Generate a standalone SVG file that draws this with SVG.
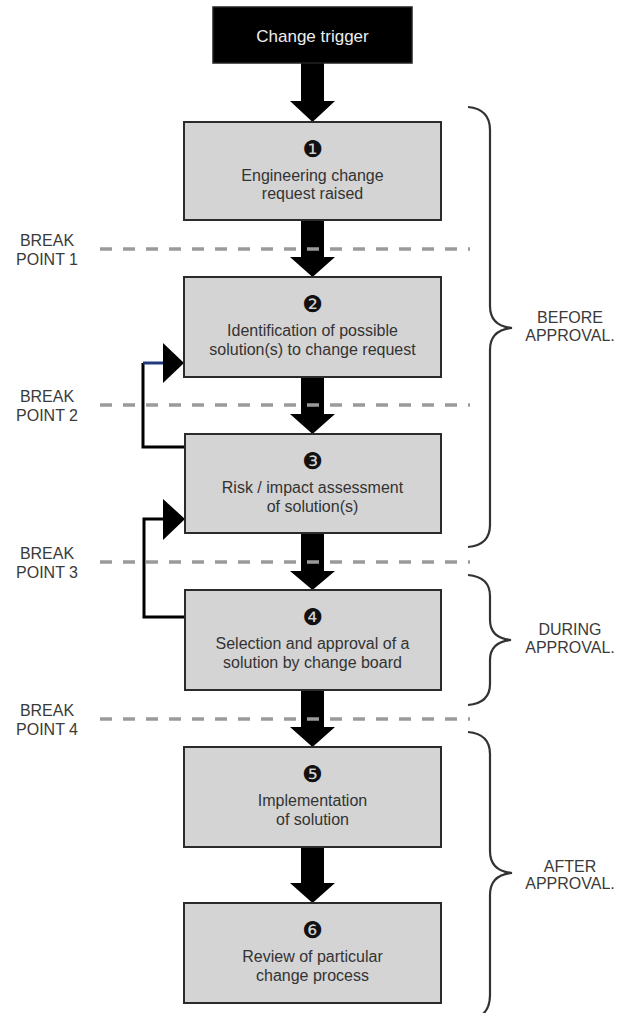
<svg xmlns="http://www.w3.org/2000/svg" width="619" height="1013" viewBox="0 0 619 1013">
<defs>
<style>
.box{fill:#d4d4d4;stroke:#2b2b2b;stroke-width:2}
.t{font-family:"Liberation Sans",Arial,sans-serif;font-size:16px;fill:#333;text-anchor:middle}
.num{font-family:"DejaVu Sans",sans-serif;font-size:23px;fill:#111;text-anchor:middle}
.lbl{font-family:"Liberation Sans",Arial,sans-serif;font-size:16px;fill:#3a3a3a;text-anchor:middle}
.dash{stroke:#9a9a9a;stroke-width:3.5;stroke-dasharray:12 11;fill:none}
.arrow{fill:#000}
.loop{fill:none;stroke:#000;stroke-width:3}
.brace{fill:none;stroke:#333;stroke-width:2.2}
</style>
</defs>
<rect width="619" height="1013" fill="#fff"/>

<g id="connectors">
<polygon class="arrow" points="301,63 324,63 324,101 335,101 312.5,122 290,101 301,101"/>
<polygon class="arrow" points="301,220 324,220 324,257 335,257 312.5,277 290,257 301,257"/>
<polygon class="arrow" points="301,377 324,377 324,414 335,414 312.5,434 290,414 301,414"/>
<polygon class="arrow" points="301,533 324,533 324,571 335,571 312.5,590 290,571 301,571"/>
<polygon class="arrow" points="301,690 324,690 324,727 335,727 312.5,747 290,727 301,727"/>
<polygon class="arrow" points="301,847 324,847 324,883 335,883 312.5,903 290,883 301,883"/>
<path class="loop" d="M184,447 H143 V363"/>
<path d="M143,363 H165" fill="none" stroke="#223a7a" stroke-width="3"/>
<polygon class="arrow" points="163,343 184,363 163,383"/>
<path class="loop" d="M185,617 H144 V519 H165"/>
<polygon class="arrow" points="163,499 185,519 163,540"/>
</g>

<g id="breakpoints">
<line class="dash" x1="100" y1="249" x2="470" y2="249"/>
<line class="dash" x1="100" y1="405" x2="470" y2="405"/>
<line class="dash" x1="100" y1="562" x2="470" y2="562"/>
<line class="dash" x1="100" y1="719" x2="470" y2="719"/>
<text class="lbl" x="47" y="246">BREAK</text>
<text class="lbl" x="47" y="265">POINT 1</text>
<text class="lbl" x="47" y="402">BREAK</text>
<text class="lbl" x="47" y="421">POINT 2</text>
<text class="lbl" x="47" y="559">BREAK</text>
<text class="lbl" x="47" y="578">POINT 3</text>
<text class="lbl" x="47" y="716">BREAK</text>
<text class="lbl" x="47" y="735">POINT 4</text>
</g>

<g id="trigger">
<rect x="213" y="7" width="199" height="56" fill="#000" stroke="#222" stroke-width="1.5"/>
<text class="t" x="312.5" y="42" style="fill:#eee;font-size:17px">Change trigger</text>
</g>

<g id="step1">
<rect class="box" x="184" y="122" width="257" height="98"/>
<text class="num" x="312.5" y="157">❶</text>
<text class="t" x="312.5" y="181">Engineering change</text>
<text class="t" x="312.5" y="199">request raised</text>
</g>

<g id="step2">
<rect class="box" x="184" y="277" width="257" height="100"/>
<text class="num" x="312.5" y="312">❷</text>
<text class="t" x="312.5" y="336">Identification of possible</text>
<text class="t" x="312.5" y="355">solution(s) to change request</text>
</g>

<g id="step3">
<rect class="box" x="185" y="434" width="256" height="99"/>
<text class="num" x="312.5" y="469">❸</text>
<text class="t" x="312.5" y="493">Risk / impact assessment</text>
<text class="t" x="312.5" y="512">of solution(s)</text>
</g>

<g id="step4">
<rect class="box" x="185" y="590" width="256" height="100"/>
<text class="num" x="312.5" y="625">❹</text>
<text class="t" x="312.5" y="649">Selection and approval of a</text>
<text class="t" x="312.5" y="668">solution by change board</text>
</g>

<g id="step5">
<rect class="box" x="184" y="747" width="257" height="100"/>
<text class="num" x="312.5" y="782">❺</text>
<text class="t" x="312.5" y="806">Implementation</text>
<text class="t" x="312.5" y="825">of solution</text>
</g>

<g id="step6">
<rect class="box" x="184" y="903" width="257" height="100"/>
<text class="num" x="312.5" y="938">❻</text>
<text class="t" x="312.5" y="962">Review of particular</text>
<text class="t" x="312.5" y="981">change process</text>
</g>

<g id="before">
<path class="brace" d="M468,107 Q490,109 490,130 V306 Q490,326 512,328 Q490,330 490,350 V525 Q490,545 468,547"/>
<text class="lbl" x="570" y="323">BEFORE</text>
<text class="lbl" x="570" y="341">APPROVAL.</text>
</g>

<g id="during">
<path class="brace" d="M468,575 Q490,577 490,596 V620 Q490,638 511,640 Q490,642 490,660 V684 Q490,703 468,705"/>
<text class="lbl" x="570" y="635">DURING</text>
<text class="lbl" x="570" y="653">APPROVAL.</text>
</g>

<g id="after">
<path class="brace" d="M468,732 Q490,734 490,754 V851 Q490,871 512,873 Q490,875 490,895 V995 Q490,1013 476,1018"/>
<text class="lbl" x="570" y="872">AFTER</text>
<text class="lbl" x="570" y="889">APPROVAL.</text>
</g>
</svg>
